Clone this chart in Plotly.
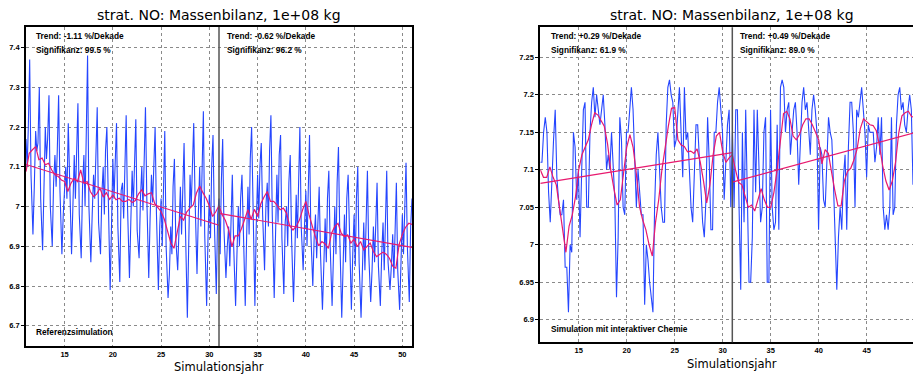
import numpy as np
import plotly.graph_objects as go

# ---------------- data ----------------
title_text = "strat. NO: Massenbilanz, 1e+08 kg"
x_title = "Simulationsjahr"
split_year = 31
year_start = 11
year_end = 51
right_visible_end = 49.82

x_tick_vals = [15, 20, 25, 30, 35, 40, 45, 50]
x_tick_text = ["15", "20", "25", "30", "35", "40", "45", "50"]
left_y_ticks = [6.7, 6.8, 6.9, 7.0, 7.1, 7.2, 7.3, 7.4]
left_y_text = ["6.7", "6.8", "6.9", "7", "7.1", "7.2", "7.3", "7.4"]
right_y_ticks = [6.9, 6.95, 7.0, 7.05, 7.1, 7.15, 7.2, 7.25]
right_y_text = ["6.9", "6.95", "7", "7.05", "7.1", "7.15", "7.2", "7.25"]
left_y_range = [6.649, 7.452]
right_y_range = [6.87, 7.29]

# samples of the reference run: 7 samples per year (phase = fraction of year)
left_blue_phase = [0.0, 0.12, 0.24, 0.38, 0.52, 0.72, 0.86]
left_blue = [
    7.17, 7.10, 7.20, 7.37, 7.08, 6.93, 7.05,
    7.19, 7.14, 7.16, 7.30, 7.02, 6.89, 7.08,
    7.20, 7.12, 7.17, 7.28, 7.00, 6.90, 7.06,
    7.13, 7.05, 7.14, 7.28, 7.04, 6.88, 6.98,
    7.03, 7.10, 7.02, 7.21, 7.07, 6.88, 7.00,
    7.13, 7.02, 7.12, 7.26, 6.98, 6.87, 7.05,
    7.13, 7.00, 7.16, 7.38, 7.00, 6.86, 6.98,
    7.08, 7.02, 7.13, 7.25, 6.96, 6.88, 7.03,
    7.10, 6.98, 7.14, 7.20, 7.02, 6.79, 6.95,
    7.12, 7.02, 7.10, 7.21, 6.95, 6.81, 7.04,
    7.06, 6.97, 7.13, 7.23, 7.00, 6.82, 6.96,
    7.09, 7.00, 7.12, 7.22, 6.94, 6.87, 7.02,
    7.10, 6.99, 7.14, 7.25, 7.02, 6.82, 6.97,
    7.08, 7.01, 7.10, 7.20, 6.98, 6.79, 6.95,
    7.02, 6.90, 7.08, 7.19, 6.90, 6.77, 6.83,
    6.95, 6.88, 7.05, 7.12, 6.92, 6.84, 6.98,
    7.05, 6.93, 7.08, 7.16, 6.95, 6.72, 6.90,
    7.08, 7.00, 7.12, 7.21, 7.02, 6.83, 6.98,
    7.10, 6.95, 7.13, 7.24, 6.93, 6.75, 6.92,
    7.03, 6.92, 7.10, 7.18, 6.96, 6.78, 6.98,
    7.02, 6.88, 7.06, 7.17, 6.94, 6.82, 6.90,
    6.95, 6.85, 7.00, 7.08, 6.90, 6.75, 6.88,
    7.00, 6.90, 7.02, 7.08, 6.93, 6.75, 6.92,
    7.05, 6.93, 7.12, 7.20, 6.96, 6.75, 6.95,
    7.08, 6.97, 7.10, 7.16, 6.98, 6.84, 7.00,
    7.06, 6.95, 7.14, 7.23, 6.98, 6.77, 6.93,
    7.08, 6.96, 7.13, 7.18, 6.92, 6.78, 6.96,
    7.00, 6.90, 7.06, 7.13, 6.92, 6.76, 6.88,
    7.03, 6.92, 7.10, 7.20, 6.95, 6.84, 6.95,
    7.04, 6.90, 7.08, 7.18, 6.93, 6.80, 6.92,
    6.98, 6.87, 6.98, 7.05, 6.88, 6.74, 6.85,
    6.97, 6.86, 7.02, 7.09, 6.90, 6.75, 6.88,
    7.00, 6.88, 7.06, 7.15, 6.92, 6.72, 6.87,
    6.98, 6.86, 7.02, 7.08, 6.90, 6.74, 6.88,
    6.98, 6.85, 7.02, 7.10, 6.86, 6.72, 6.86,
    6.96, 6.84, 7.00, 7.09, 6.88, 6.76, 6.84,
    6.95, 6.86, 6.98, 7.06, 6.85, 6.75, 6.88,
    6.96, 6.84, 7.00, 7.09, 6.86, 6.79, 6.85,
    6.93, 6.82, 6.97, 7.06, 6.84, 6.74, 6.86,
    6.98, 6.88, 7.03, 7.11, 6.90, 6.76, 6.95,
]
left_blue_final = 7.02

# smoothed curve, one value every 4 months from year 11
left_red = [
    7.088, 7.134, 7.143, 7.151, 7.118, 7.122, 7.105, 7.109, 7.092, 7.080,
    7.076, 7.067, 7.063, 7.038, 7.059, 7.071, 7.063, 7.092, 7.059, 7.063,
    7.038, 7.025, 7.032, 7.046, 7.024, 7.035, 7.018, 7.029, 7.017, 7.021,
    7.013, 7.013, 7.018, 7.010, 7.015, 7.032, 7.042, 7.027, 7.032, 7.035,
    7.008, 6.996, 6.987, 6.968, 6.937, 6.909, 6.895, 6.937, 6.975, 6.966,
    6.987, 6.996, 7.004, 7.034, 7.052, 7.035, 7.021, 7.002, 6.975, 6.987,
    7.002, 6.979, 6.965, 6.941, 6.899, 6.926, 6.926, 6.945, 6.966, 6.992,
    6.968, 6.993, 6.975, 7.007, 7.024, 7.038, 7.013, 7.013, 7.004, 6.992,
    6.996, 6.983, 6.951, 6.941, 6.950, 6.966, 6.992, 7.013, 6.979, 6.948,
    6.923, 6.901, 6.912, 6.906, 6.895, 6.933, 6.950, 6.958, 6.933, 6.924,
    6.929, 6.908, 6.918, 6.899, 6.912, 6.891, 6.901, 6.908, 6.887, 6.874,
    6.880, 6.885, 6.880, 6.870, 6.850, 6.845, 6.905, 6.930, 6.948, 6.958,
    6.955,
]
left_trend_1 = [7.106, 6.953]
left_trend_2 = [6.983, 6.897]

left_trend_label_1 = ["Trend: -1.11 %/Dekade", "Signifikanz: 99.5 %"]
left_trend_label_2 = ["Trend: -0.62 %/Dekade", "Signifikanz: 96.2 %"]
left_run_label = "Referenzsimulation"

# interactive-chemistry run, evenly sampled from year 11 to the visible edge
right_blue = [
    7.11, 7.11, 7.15, 7.17, 7.15, 7.07, 7.03, 7.10, 7.14, 7.18,
    7.09, 7.06, 7.04, 7.04, 7.06, 6.97, 6.97, 6.91, 7.00, 6.99,
    7.15, 7.13, 7.06, 7.10, 7.01, 7.10, 7.18, 7.19, 7.05, 7.05,
    7.15, 7.19, 7.21, 7.17, 7.20, 7.18, 7.16, 7.18, 7.20, 7.16,
    7.10, 7.12, 7.10, 7.15, 7.10, 7.06, 6.93, 7.01, 7.17, 7.14,
    7.05, 7.04, 7.15, 7.15, 7.18, 7.21, 7.18, 7.11, 7.05, 7.10,
    7.07, 7.04, 7.04, 6.92, 7.00, 6.98, 6.95, 6.93, 6.91, 7.05,
    7.12, 7.15, 7.10, 7.05, 7.03,
    7.03, 7.16, 7.21, 7.22, 7.20, 7.19, 7.13, 7.14, 7.18, 7.21,
    7.15, 7.09, 7.21, 7.14, 7.15, 7.10, 7.05, 7.03, 7.09, 7.16,
    7.16, 7.11, 7.07, 7.03, 7.01, 7.06, 7.17, 7.11, 7.02, 7.02,
    7.15, 7.15, 7.19, 7.21, 7.18, 7.15, 7.06, 7.11, 7.16, 7.18,
    7.05, 7.15, 7.05, 7.18, 7.18, 7.05, 6.94, 7.15, 7.03, 7.18,
    7.06, 6.95, 6.95, 7.01, 7.18, 7.07, 7.18, 7.09, 7.03, 7.05,
    7.15, 7.17, 6.95, 6.95, 7.18, 7.05, 7.02, 7.03, 7.16, 7.02,
    7.21, 7.22, 7.21, 7.15, 7.18,
    7.19, 7.12, 7.15, 7.18, 7.19, 7.15, 7.08, 7.15, 7.19, 7.21,
    7.18, 7.19, 7.16, 7.12, 7.18, 7.20, 7.18, 7.15, 7.02, 7.13,
    7.12, 7.06, 7.05, 7.10, 7.17, 7.15, 7.14, 7.08, 7.00, 6.94,
    7.01, 7.05, 7.02, 7.09, 7.12, 7.02, 7.13, 7.19, 7.19, 7.15,
    7.05, 7.18, 7.17, 7.19, 7.21, 7.18, 7.15, 7.09, 7.16, 7.15,
    7.15, 7.15, 7.11, 7.13, 7.17, 7.12, 7.17, 7.05, 7.02, 7.04,
    7.02, 7.05, 7.17, 7.04, 7.05, 7.16, 7.20, 7.21, 7.18, 7.19,
    7.16, 7.15, 7.18, 7.20, 7.18, 7.08,
]

right_red = [
    7.100, 7.090, 7.090, 7.104, 7.090, 7.080, 7.050, 7.020, 6.990, 7.025,
    7.040, 7.064, 7.100, 7.120, 7.130, 7.140, 7.160, 7.176, 7.173, 7.165,
    7.158, 7.135, 7.100, 7.075, 7.053, 7.060, 7.095, 7.130, 7.147, 7.130,
    7.095, 7.051, 7.033, 7.020, 7.000, 6.985, 7.030, 7.060, 7.100, 7.130,
    7.158, 7.182, 7.183, 7.140, 7.133, 7.131, 7.124, 7.125, 7.122, 7.128,
    7.110, 7.085, 7.056, 7.080, 7.120, 7.145, 7.150, 7.124, 7.110, 7.116,
    7.120, 7.100, 7.083, 7.080, 7.066, 7.050, 7.053, 7.045, 7.060, 7.075,
    7.060, 7.050, 7.050, 7.070, 7.100, 7.140, 7.175, 7.178, 7.168, 7.145,
    7.140, 7.147, 7.160, 7.168, 7.168, 7.160, 7.150, 7.140, 7.108, 7.127,
    7.122, 7.095, 7.073, 7.052, 7.052, 7.085, 7.098, 7.102, 7.113, 7.128,
    7.155, 7.168, 7.164, 7.160, 7.159, 7.152, 7.132, 7.105, 7.085, 7.073,
    7.085, 7.110, 7.149, 7.172, 7.176, 7.178, 7.171, 7.170,
]
right_trend_1 = [7.082, 7.123]
right_trend_2 = [7.0836, 7.153]

right_trend_label_1 = ["Trend: +0.29 %/Dekade", "Signifikanz: 61.9 %"]
right_trend_label_2 = ["Trend: +0.49 %/Dekade", "Signifikanz: 89.0 %"]
right_run_label = "Simulation mit interaktiver Chemie"

# ---------------- derived x grids ----------------
left_blue_x = [y + p for y in range(year_start, year_end) for p in left_blue_phase][: len(left_blue)]
left_blue_x = left_blue_x + [year_end]
left_blue_y = left_blue + [left_blue_final]
left_red_x = [year_start + i / 3 for i in range(len(left_red))]
right_blue_x = list(np.linspace(year_start, right_visible_end, len(right_blue)))
right_red_x = [year_start + i / 3 for i in range(len(right_red))]

BLUE = "#2546ff"
RED = "#e8196e"
FONT = "Liberation Sans"
TFONT = "DejaVu Sans"

fig = go.Figure()


def add_panel(xa, ya, bx, by, rx, ry, t1, t2):
    fig.add_trace(go.Scatter(x=bx, y=by, mode="lines", line=dict(color=BLUE, width=1.1),
                             xaxis=xa, yaxis=ya, showlegend=False, hoverinfo="skip"))
    fig.add_trace(go.Scatter(x=rx, y=ry, mode="lines", line=dict(color=RED, width=1.2),
                             xaxis=xa, yaxis=ya, showlegend=False, hoverinfo="skip"))
    fig.add_trace(go.Scatter(x=[year_start, split_year], y=t1, mode="lines",
                             line=dict(color=RED, width=1.2), xaxis=xa, yaxis=ya,
                             showlegend=False, hoverinfo="skip"))
    fig.add_trace(go.Scatter(x=[split_year, year_end], y=t2, mode="lines",
                             line=dict(color=RED, width=1.2), xaxis=xa, yaxis=ya,
                             showlegend=False, hoverinfo="skip"))


add_panel("x", "y", left_blue_x, left_blue_y, left_red_x, left_red, left_trend_1, left_trend_2)
add_panel("x2", "y2", right_blue_x, right_blue, right_red_x, right_red, right_trend_1, right_trend_2)

W, H = 913, 376
L_dom_x = [26 / W, 412 / W]
L_dom_y = [1 - 346 / H, 1 - 27 / H]
R_dom_x = [540.3 / W, 1.0]
R_dom_y = [1 - 342.3 / H, 1 - 27.3 / H]

tickfont = dict(family=FONT, size=7.5, color="black", weight="bold")
grid = dict(showgrid=True, gridcolor="#8a8a8a", griddash="dot", gridwidth=1)

fig.update_layout(
    width=W, height=H, margin=dict(l=0, r=0, t=0, b=0),
    paper_bgcolor="white", plot_bgcolor="white",
    xaxis=dict(domain=L_dom_x, range=[year_start, year_end], anchor="y",
               tickvals=x_tick_vals, ticktext=x_tick_text, tickfont=tickfont,
               ticks="", ticklabelstandoff=0, showline=True, linecolor="black",
               linewidth=1.8, mirror=True, zeroline=False, **grid),
    yaxis=dict(domain=L_dom_y, range=left_y_range, anchor="x",
               tickvals=left_y_ticks, ticktext=left_y_text, tickfont=tickfont,
               ticks="outside", ticklen=3, tickcolor="black",
               showline=True, linecolor="black", linewidth=1.8, mirror=True,
               zeroline=False, **grid),
    xaxis2=dict(domain=R_dom_x, range=[year_start, right_visible_end], anchor="y2",
                tickvals=x_tick_vals, ticktext=x_tick_text, tickfont=tickfont,
                ticks="", ticklabelstandoff=0, showline=True, linecolor="black",
                linewidth=1.8, mirror=True, zeroline=False, **grid),
    yaxis2=dict(domain=R_dom_y, range=right_y_range, anchor="x2",
                tickvals=right_y_ticks, ticktext=right_y_text, tickfont=tickfont,
                ticks="outside", ticklen=3, tickcolor="black",
                showline=True, linecolor="black", linewidth=1.8, mirror=False,
                zeroline=False, **grid),
)

# split line between the two trend periods
for xr, yr in (("x", "y domain"), ("x2", "y2 domain")):
    fig.add_shape(type="line", xref=xr, yref=yr, x0=split_year, x1=split_year, y0=0, y1=1,
                  line=dict(color="#555555", width=1.5), layer="above")

ann_font = dict(family=FONT, size=8.3, color="black", weight="bold")


def ann(text, x, y, xanchor="left", font=ann_font):
    fig.add_annotation(text=text, x=x / W, y=1 - y / H, xref="paper", yref="paper",
                       xanchor=xanchor, yanchor="middle", showarrow=False, font=font)


ann(left_trend_label_1[0], 34, 36)
ann(left_trend_label_1[1], 34, 50)
ann(left_trend_label_2[0], 225, 36)
ann(left_trend_label_2[1], 225, 50)
ann(left_run_label, 34, 332)
ann(right_trend_label_1[0], 548.5, 36)
ann(right_trend_label_1[1], 548.5, 50)
ann(right_trend_label_2[0], 738, 36)
ann(right_trend_label_2[1], 738, 50)
ann(right_run_label, 548.5, 329)

title_font = dict(family=TFONT, size=14, color="black")
ann(title_text, 219, 15.5, "center", title_font)
ann(title_text, 732, 15.5, "center", title_font)
xt_font = dict(family=TFONT, size=11.5, color="black")
ann(x_title, 219, 367, "center", xt_font)
ann(x_title, 732, 364, "center", xt_font)

fig.write_html("out.html")
